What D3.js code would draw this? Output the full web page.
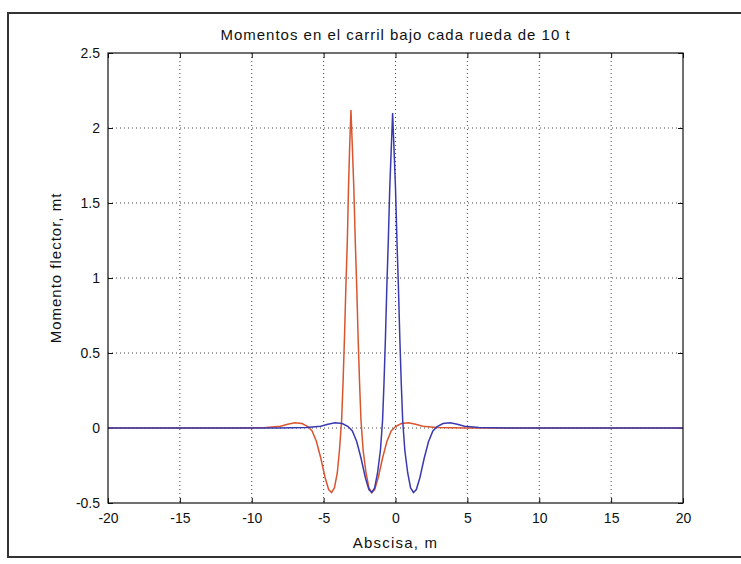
<!DOCTYPE html>
<html>
<head>
<meta charset="utf-8">
<script src="https://cdn.jsdelivr.net/npm/d3@7"></script>
<style>
  body { margin: 0; background: #fff; }
  text { font-family: "Liberation Sans", Arial, sans-serif; fill: #111; }
</style>
</head>
<body>
<div id="chart"></div>
<script>
// axis ticks
var xTicks = [-20, -15, -10, -5, 0, 5, 10, 15, 20];
var yTicks = [-0.5, 0, 0.5, 1, 1.5, 2, 2.5];

// wheel under x = -0.2 m (blue)
var blueX = [-20, -8.2, -6.2, -5.2, -4.7, -4.2, -3.7, -3.3, -3.0, -2.7, -2.4, -2.1, -1.85, -1.65, -1.45, -1.25, -1.05, -0.9, -0.8, -0.7, -0.6, -0.5, -0.4, -0.3, -0.2,
             -0.1, 0, 0.1, 0.2, 0.3, 0.4, 0.5, 0.65, 0.85, 1.05, 1.25, 1.45, 1.7, 2.0, 2.3, 2.6, 2.9, 3.3, 3.8, 4.3, 4.8, 5.8, 7.8, 20];
var blueM = [0, 0, 0.003, 0.012, 0.025, 0.035, 0.03, 0.01, -0.02, -0.09, -0.2, -0.33, -0.41, -0.43, -0.4, -0.3, -0.15, 0.05, 0.3, 0.6, 0.95, 1.25, 1.6, 1.85, 2.1,
             1.85, 1.6, 1.25, 0.95, 0.6, 0.3, 0.05, -0.15, -0.3, -0.4, -0.43, -0.41, -0.33, -0.2, -0.09, -0.02, 0.01, 0.03, 0.035, 0.025, 0.012, 0.003, 0, 0];

// wheel under x = -3.1 m (red)
var redX = [-20, -11.0, -9.0, -8.0, -7.5, -7.0, -6.5, -6.1, -5.8, -5.5, -5.2, -4.9, -4.65, -4.45, -4.25, -4.05, -3.9, -3.75, -3.65, -3.55, -3.45, -3.35, -3.27, -3.19, -3.1,
            -3.0, -2.9, -2.8, -2.7, -2.6, -2.5, -2.4, -2.25, -2.05, -1.85, -1.65, -1.45, -1.2, -0.9, -0.6, -0.3, 0, 0.4, 0.9, 1.4, 1.9, 2.9, 4.9, 20];
var redM = [0, 0, 0.003, 0.012, 0.025, 0.035, 0.03, 0.01, -0.02, -0.09, -0.2, -0.33, -0.41, -0.43, -0.4, -0.3, -0.15, 0.05, 0.3, 0.6, 0.95, 1.25, 1.6, 1.87, 2.12,
            1.87, 1.6, 1.25, 0.95, 0.6, 0.3, 0.05, -0.15, -0.3, -0.4, -0.43, -0.41, -0.33, -0.2, -0.09, -0.02, 0.01, 0.03, 0.035, 0.025, 0.012, 0.003, 0, 0];

var width = 741, height = 564;
var margin = {top: 53, right: 58, bottom: 61, left: 108},
    plotW = width - margin.left - margin.right,
    plotH = height - margin.top - margin.bottom;

var svg = d3.select("#chart").append("svg")
    .attr("width", width)
    .attr("height", height);

// outer frame of the figure
svg.append("rect")
    .attr("x", 8).attr("y", 13)
    .attr("width", 745).attr("height", 544)
    .attr("fill", "none")
    .attr("stroke", "#333")
    .attr("stroke-width", 2);

var g = svg.append("g")
    .attr("transform", "translate(" + margin.left + "," + margin.top + ")");

var x = d3.scaleLinear().domain([-20, 20]).range([0, plotW]);
var y = d3.scaleLinear().domain([-0.5, 2.5]).range([plotH, 0]);

// plain hyphen like the original labels
var fmt = function(d) { return String(d); };

// dotted grid
g.append("g").selectAll("line")
    .data(xTicks.slice(1, -1))
  .enter().append("line")
    .attr("x1", function(d) { return x(d); })
    .attr("x2", function(d) { return x(d); })
    .attr("y1", 0).attr("y2", plotH)
    .attr("stroke", "#444")
    .attr("stroke-dasharray", "1,3");

g.append("g").selectAll("line")
    .data(yTicks.slice(1, -1))
  .enter().append("line")
    .attr("y1", function(d) { return y(d); })
    .attr("y2", function(d) { return y(d); })
    .attr("x1", 0).attr("x2", plotW)
    .attr("stroke", "#444")
    .attr("stroke-dasharray", "1,3");

// axes, ticks pointing inward
g.append("g")
    .attr("transform", "translate(0," + plotH + ")")
    .call(d3.axisBottom(x).tickValues(xTicks).tickSizeInner(-5).tickSizeOuter(0).tickPadding(10).tickFormat(fmt));
g.append("g")
    .call(d3.axisLeft(y).tickValues(yTicks).tickSizeInner(-5).tickSizeOuter(0).tickPadding(8).tickFormat(fmt));
g.append("g")
    .call(d3.axisTop(x).tickValues(xTicks).tickSizeInner(-5).tickSizeOuter(0).tickFormat(""));
g.append("g")
    .attr("transform", "translate(" + plotW + ",0)")
    .call(d3.axisRight(y).tickValues(yTicks).tickSizeInner(-5).tickSizeOuter(0).tickFormat(""));

g.selectAll(".domain").remove();
g.selectAll(".tick line").attr("stroke", "#111");
g.selectAll(".tick text")
    .style("font-family", "Liberation Sans, Arial, sans-serif")
    .style("font-size", "14px")
    .attr("fill", "#111");

// curves
var line = d3.line()
    .x(function(d) { return x(d[0]); })
    .y(function(d) { return y(d[1]); });

g.append("path")
    .datum(redX.map(function(v, i) { return [v, redM[i]]; }))
    .attr("d", line)
    .attr("fill", "none")
    .attr("stroke", "#d9552f")
    .attr("stroke-width", 1.5);

g.append("path")
    .datum(blueX.map(function(v, i) { return [v, blueM[i]]; }))
    .attr("d", line)
    .attr("fill", "none")
    .attr("stroke", "#3a3ab0")
    .attr("stroke-width", 1.5);

// plot box
g.append("rect")
    .attr("width", plotW).attr("height", plotH)
    .attr("fill", "none")
    .attr("stroke", "#111")
    .attr("stroke-width", 1.2);

// titles
svg.append("text")
    .attr("x", margin.left + plotW / 2)
    .attr("y", 40)
    .attr("text-anchor", "middle")
    .style("font-size", "15px")
    .style("letter-spacing", "1px")
    .text("Momentos en el carril bajo cada rueda de 10 t");

svg.append("text")
    .attr("x", margin.left + plotW / 2)
    .attr("y", 548)
    .attr("text-anchor", "middle")
    .style("font-size", "15px")
    .style("letter-spacing", "1.2px")
    .text("Abscisa, m");

svg.append("text")
    .attr("transform", "translate(61," + (margin.top + plotH / 2 - 10) + ") rotate(-90)")
    .attr("text-anchor", "middle")
    .style("font-size", "15px")
    .style("letter-spacing", "1px")
    .text("Momento flector, mt");
</script>
</body>
</html>
